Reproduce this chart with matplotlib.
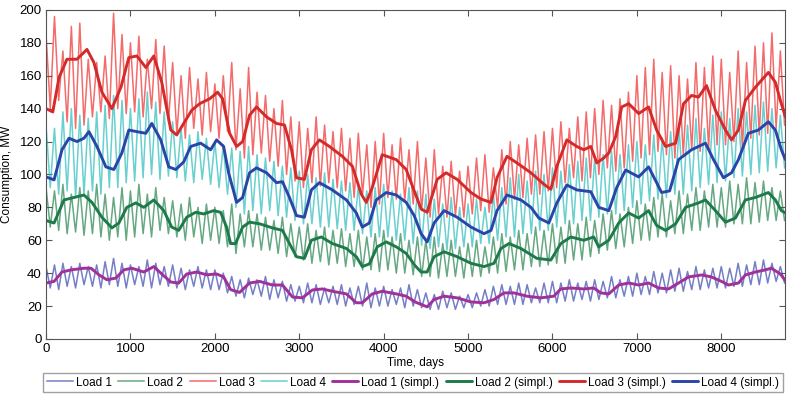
import numpy as np
import matplotlib.pyplot as plt

plt.rcParams['font.family'] = ['Liberation Sans', 'DejaVu Sans']

# hourly samples (peak / trough every 100 h)
raw_t = list(range(0, 8800, 100))

load1_hi = [44, 45, 46, 44, 46, 44, 45, 47, 49, 46, 45, 44, 48, 46, 44, 45, 43, 42, 44, 42,
            42, 40, 38, 36, 37, 36, 38, 36, 35, 33, 32, 34, 33, 31, 32, 33, 31, 32, 34, 31,
            32, 30, 31, 33, 30, 28, 27, 29, 28, 26, 27, 28, 30, 32, 33, 32, 34, 33, 31, 34,
            35, 34, 36, 34, 35, 36, 35, 38, 36, 38, 40, 38, 41, 40, 42, 43, 41, 44, 42, 43,
            44, 43, 46, 45, 47, 48, 46, 44]
load1_lo = [31, 30, 32, 31, 33, 32, 31, 33, 32, 31, 33, 32, 31, 33, 32, 31, 30, 32, 31, 30,
            30, 28, 26, 25, 27, 26, 24, 25, 23, 23, 22, 22, 21, 22, 21, 20, 21, 20, 19, 20,
            20, 21, 19, 20, 19, 18, 18, 19, 18, 19, 19, 20, 20, 21, 21, 21, 21, 22, 22, 22,
            22, 23, 23, 24, 23, 24, 25, 25, 26, 26, 27, 27, 28, 28, 29, 29, 30, 30, 31, 31,
            31, 32, 32, 33, 33, 34, 35, 34]

load2_hi = [92, 90, 94, 88, 92, 90, 94, 88, 86, 92, 90, 94, 88, 92, 86, 84, 82, 86, 80, 82,
            80, 78, 82, 76, 78, 76, 74, 72, 74, 70, 68, 70, 66, 68, 66, 67, 64, 66, 62, 64,
            66, 62, 64, 60, 62, 60, 62, 58, 60, 56, 58, 60, 56, 62, 64, 62, 66, 64, 68, 66,
            70, 68, 72, 70, 74, 72, 76, 78, 76, 80, 84, 82, 86, 88, 84, 90, 88, 92, 90, 94,
            92, 96, 94, 98, 95, 96, 92, 90]
load2_lo = [68, 66, 64, 65, 63, 64, 62, 60, 62, 60, 62, 64, 62, 66, 64, 62, 60, 62, 58, 60,
            58, 56, 52, 56, 56, 54, 54, 52, 50, 50, 48, 46, 47, 45, 46, 44, 44, 42, 42, 41,
            42, 40, 40, 39, 38, 38, 37, 38, 38, 37, 38, 38, 40, 40, 41, 42, 42, 44, 44, 45,
            46, 46, 48, 48, 50, 52, 54, 55, 56, 58, 60, 60, 62, 62, 64, 64, 66, 66, 68, 68,
            68, 70, 70, 70, 71, 72, 72, 72]

load3_hi = [185, 196, 175, 190, 192, 170, 168, 172, 198, 185, 180, 184, 170, 182, 178,
            168, 160, 165, 158, 162, 155, 160, 168, 152, 165, 150, 148, 140, 145, 135,
            132, 128, 135, 130, 126, 128, 122, 125, 118, 120, 125, 118, 122, 115, 120,
            110, 115, 105, 108, 102, 105, 110, 112, 104, 115, 120, 118, 122, 124, 126,
            128, 132, 128, 135, 138, 140, 145, 142, 146, 150, 160, 165, 170, 162, 166,
            160, 158, 168, 165, 172, 170, 162, 175, 168, 178, 180, 186, 175]
load3_lo = [140, 145, 132, 128, 130, 135, 138, 134, 140, 137, 138, 135, 140, 137, 132,
            125, 122, 128, 124, 126, 122, 126, 115, 110, 112, 113, 108, 105, 100, 96,
            92, 95, 93, 95, 92, 90, 86, 88, 80, 82, 86, 85, 84, 82, 78,
            74, 76, 74, 75, 74, 76, 78, 77, 80, 82, 85, 86, 88, 88, 90,
            92, 95, 98, 96, 98, 100, 104, 102, 104, 108, 110, 112, 114, 112, 110,
            112, 115, 114, 116, 118, 118, 120, 116, 122, 124, 125, 128, 130]

load4_hi = [130, 128, 138, 140, 136, 134, 138, 142, 148, 145, 140, 146, 150, 144, 138,
            132, 128, 124, 126, 122, 120, 118, 116, 114, 117, 112, 110, 108, 105, 104,
            102, 100, 98, 101, 97, 96, 95, 93, 90, 92, 94, 90, 88, 92, 90,
            88, 85, 82, 86, 80, 82, 85, 80, 88, 92, 98, 100, 96, 102, 100,
            104, 102, 106, 108, 110, 110, 112, 114, 112, 118, 120, 118, 124, 122, 126,
            128, 130, 134, 128, 136, 138, 134, 140, 138, 142, 144, 140, 136]
load4_lo = [92, 88, 90, 86, 88, 90, 88, 92, 92, 95, 96, 98, 100, 97, 99,
            98, 96, 95, 97, 94, 92, 88, 80, 76, 78, 76, 78, 75, 74, 72,
            70, 70, 68, 68, 67, 66, 66, 64, 62, 62, 62, 60, 60, 58, 57,
            55, 56, 54, 55, 56, 56, 58, 58, 60, 62, 62, 64, 64, 66, 66,
            68, 70, 70, 72, 72, 74, 76, 76, 78, 80, 82, 84, 85, 86, 88,
            88, 90, 92, 94, 95, 96, 98, 99, 100, 101, 102, 104, 104]

# smoothed curves (hour, MW)
s1_t = [0, 95, 189, 296, 449, 532, 626, 721, 827, 922, 1017, 1158, 1277, 1371, 1478, 1572,
        1667, 1785, 1903, 2021, 2104, 2187, 2293, 2411, 2530, 2683, 2801, 2920, 3038, 3156,
        3274, 3392, 3558, 3676, 3747, 3865, 3983, 4149, 4267, 4373, 4444, 4515, 4598, 4716,
        4870, 5035, 5189, 5307, 5425, 5544, 5697, 5863, 6016, 6099, 6217, 6371, 6489, 6572,
        6667, 6785, 6903, 7021, 7139, 7257, 7376, 7494, 7612, 7766, 7884, 8002, 8085, 8203,
        8286, 8404, 8522, 8593, 8700, 8759]
s1_v = [34, 35, 40.7, 42, 43, 43, 39, 36, 37, 42, 43, 40.7, 44, 39.5, 34.6, 34,
        39.5, 40.7, 39, 39.5, 37.7, 30, 28.3, 34, 35, 32.8, 32.8, 25.5, 25, 29.8,
        30.4, 29, 27.4, 22, 22, 27.4, 29, 27.4, 26, 22.5, 21, 19.5, 24, 26,
        25, 22.5, 22, 24, 28, 28, 26, 25, 26, 30.4, 31, 30.4, 31, 28,
        27.4, 32.8, 34, 32.8, 34, 31, 30.4, 34, 37.7, 38.9, 37.7, 35, 32.8, 34,
        38.9, 40.7, 42, 43, 39.5, 35.5]

s2_t = [0, 95, 213, 331, 449, 544, 662, 780, 863, 957, 1064, 1158, 1277, 1395, 1489, 1572,
        1667, 1773, 1868, 1986, 2068, 2139, 2187, 2246, 2329, 2411, 2530, 2683, 2801, 2884,
        2967, 3061, 3144, 3262, 3392, 3558, 3676, 3747, 3830, 3924, 4031, 4149, 4267, 4373,
        4444, 4515, 4598, 4716, 4870, 5035, 5189, 5307, 5390, 5485, 5626, 5815, 5981, 6099,
        6217, 6371, 6489, 6548, 6667, 6785, 6903, 7021, 7139, 7234, 7340, 7459, 7577, 7730,
        7813, 7931, 8050, 8168, 8286, 8404, 8558, 8641, 8712, 8759]
s2_v = [72, 70.5, 84.5, 86, 87.5, 83, 74, 67.5, 70.5, 80, 82.7, 80, 84.5, 78, 68, 66,
        74, 77, 76, 78, 77, 68, 58, 58, 68, 71, 70, 67.5, 66, 58,
        50, 49, 60, 62, 58, 55, 50, 44, 45.6, 56, 59, 56, 52, 44.5,
        40.7, 40.7, 50, 53, 50, 46, 44, 46, 55, 58, 55, 49, 48, 58,
        62, 60, 62, 56, 60, 70.5, 76.6, 73.5, 78, 69, 66, 70, 80, 82.7,
        84.5, 78, 71, 73.5, 84.5, 86, 89, 84.5, 78, 76.6]

s3_t = [0, 80, 154, 248, 366, 485, 567, 662, 780, 887, 981, 1076, 1182, 1277, 1371, 1478,
        1548, 1631, 1726, 1820, 1939, 2033, 2092, 2175, 2258, 2330, 2411, 2494, 2612, 2730,
        2825, 2908, 2967, 3061, 3144, 3239, 3357, 3511, 3629, 3735, 3794, 3865, 3983, 4149,
        4267, 4362, 4444, 4515, 4634, 4740, 4870, 5035, 5154, 5272, 5343, 5461, 5579, 5745,
        5899, 5981, 6052, 6170, 6288, 6371, 6454, 6525, 6608, 6667, 6749, 6820, 6903, 7021,
        7139, 7234, 7340, 7459, 7553, 7648, 7730, 7825, 7931, 8050, 8121, 8203, 8286, 8404,
        8558, 8641, 8700, 8759]
s3_v = [140, 138, 159, 170, 170, 176, 168, 150, 140, 153, 171, 172, 165, 172, 156, 127,
        124, 131, 139, 143, 146, 150, 146, 125, 117, 120, 136, 141, 135, 131,
        130, 115, 98, 97, 115, 121, 117, 111, 105, 88, 83, 92, 112, 109,
        103, 90, 79, 77, 97, 101, 97, 89, 85, 83, 98, 111, 107, 101,
        94, 91, 105, 121, 117, 115, 117, 107, 110, 113, 123, 141, 143, 137,
        141, 127, 117, 119, 143, 148, 147, 154, 139, 127, 121, 127, 145, 153,
        162, 156, 145, 135]

s4_t = [0, 95, 189, 272, 366, 449, 508, 603, 709, 804, 898, 981, 1076, 1182, 1253, 1359,
        1454, 1537, 1631, 1714, 1832, 1950, 2021, 2104, 2163, 2258, 2329, 2411, 2494, 2612,
        2730, 2801, 2884, 2967, 3061, 3144, 3239, 3392, 3558, 3676, 3747, 3830, 3912, 4031,
        4149, 4267, 4362, 4444, 4515, 4598, 4716, 4870, 5035, 5189, 5272, 5343, 5461, 5626,
        5745, 5839, 5957, 6052, 6170, 6288, 6454, 6548, 6667, 6761, 6867, 7021, 7139, 7234,
        7293, 7388, 7494, 7648, 7813, 7908, 8026, 8121, 8203, 8321, 8440, 8558, 8641, 8712,
        8759]
s4_v = [98.5, 96.7, 115, 122, 120, 122, 126, 117, 104.6, 103, 113, 127, 126, 125, 131, 121,
        104.6, 103, 107.6, 117, 119, 115, 121, 117, 101, 83, 86, 101, 104, 101,
        95, 95.6, 86, 75, 74, 90.6, 95, 90.6, 84.5, 76.6, 68, 70.5, 84.5, 89,
        87.5, 83, 75, 64, 59, 70.5, 78, 74, 68, 64, 66, 78, 87.5, 84.5,
        80, 73.5, 70.5, 82.7, 93.6, 90.6, 89.5, 80, 78, 92, 102.7, 98.5, 104.6, 95,
        89, 90, 109, 115, 119, 109, 98, 101, 109, 125, 127, 132, 127, 115,
        109]

labels = ['Load 1', 'Load 2', 'Load 3', 'Load 4',
          'Load 1 (simpl.)', 'Load 2 (simpl.)', 'Load 3 (simpl.)', 'Load 4 (simpl.)']

raw_colors = ['#2a3aa6', '#147a40', '#ee1c1c', '#18b6b6']
simpl_colors = ['#a0309a', '#1e7a4a', '#d42a2a', '#2a44a8']


def zigzag(t, hi, lo):
    t = np.asarray(t, dtype=float)
    x = np.empty(2 * len(t))
    y = np.empty(2 * len(t))
    x[0::2] = t
    x[1::2] = t + 50
    y[0::2] = hi
    y[1::2] = lo
    return x, y


fig = plt.figure(figsize=(7.87, 3.96), dpi=100)
ax = fig.add_axes([0.0585, 0.144, 0.9395, 0.831])

raw = [(load1_hi, load1_lo), (load2_hi, load2_lo), (load3_hi, load3_lo), (load4_hi, load4_lo)]
for (hi, lo), c, lab in zip(raw, raw_colors, labels[:4]):
    x, y = zigzag(raw_t, hi, lo)
    ax.plot(x, y, color=c, lw=1.1, alpha=0.65, label=lab)

smooth = [(s1_t, s1_v), (s2_t, s2_v), (s3_t, s3_v), (s4_t, s4_v)]
for (t, v), c, lab in zip(smooth, simpl_colors, labels[4:]):
    ax.plot(t, v, color=c, lw=2.1, label=lab, solid_capstyle='round',
            solid_joinstyle='round')

ax.set_xlim(0, 8760)
ax.set_ylim(0, 200)
ax.set_xticks(range(0, 9000, 1000))
ax.set_yticks(range(0, 201, 20))
ax.tick_params(direction='in', top=True, right=True, length=4, labelsize=9.5,
               color='#555555', pad=3)
for s in ax.spines.values():
    s.set_color('#555555')
    s.set_linewidth(0.8)
ax.set_xlabel('Time, days', fontsize=8.5, labelpad=1)
ax.set_ylabel('Consumption, MW', fontsize=8.5, labelpad=5)

fig.legend(loc='center', bbox_to_anchor=(0.525, 0.034), ncol=8, fontsize=8.5,
           frameon=True, fancybox=False, edgecolor='#888888', handlelength=2.2,
           handletextpad=0.25, columnspacing=0.55, borderpad=0.3, borderaxespad=0)

fig.savefig('out.png', dpi=100)
